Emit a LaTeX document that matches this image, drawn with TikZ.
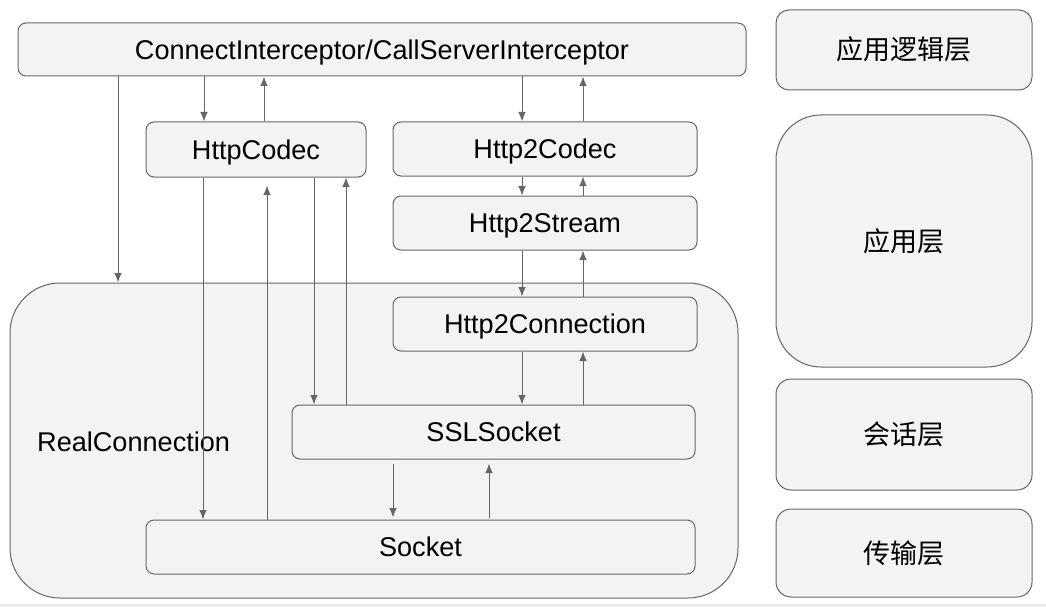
\documentclass[tikz,border=0pt]{standalone}
\usepackage{fontspec}
\setmainfont{Liberation Sans}
\newfontfamily\cjk{Noto Sans CJK SC}
\usetikzlibrary{arrows.meta}
\definecolor{boxfill}{HTML}{F3F3F3}
\definecolor{boxline}{HTML}{666666}
\definecolor{arrline}{HTML}{666666}
\tikzset{
  txt/.style={font=\fontsize{27.1}{30}\selectfont, text=black, text height=19.4pt, text depth=0pt, inner sep=0pt},
  box/.style={txt, draw=boxline, fill=boxfill, line width=1pt, rounded corners=8pt},
  layer/.style={box, font=\cjk\fontsize{27}{30}\selectfont, text height=20pt},
  arr/.style={draw=arrline, line width=1pt, -{Latex[length=9.5pt,width=7.5pt]}},
}
\begin{document}
\begin{tikzpicture}[x=1pt,y=-1pt]
\fill[white] (0,0) rectangle (1046,607);
\useasboundingbox (0,0) rectangle (1046,607);
\fill[black!7] (0,604) rectangle (1046,607);

% big container
\node[box, rounded corners=50pt, minimum width=728pt, minimum height=315pt] (rc) at (374,440.5) {};
\node[txt, anchor=west] (rclabel) at (37,442) {RealConnection};

% boxes
\node[box, minimum width=728pt, minimum height=53pt] (ci) at (382,49.5) {ConnectInterceptor/CallServerInterceptor};
\node[box, minimum width=220pt, minimum height=55pt] (hc) at (256,149.5) {HttpCodec};
\node[box, minimum width=304pt, minimum height=54pt] (h2c) at (545,149) {Http2Codec};
\node[box, minimum width=304pt, minimum height=54pt] (h2s) at (545,223) {Http2Stream};
\node[box, minimum width=304pt, minimum height=54pt] (h2conn) at (545,324) {Http2Connection};
\node[box, minimum width=403pt, minimum height=54pt] (ssl) at (493.5,432) {SSLSocket};
\node[box, minimum width=549pt, minimum height=54pt] (sock) at (420.5,547) {Socket};

% layers
\node[layer, rounded corners=13pt, minimum width=256pt, minimum height=80pt] (l1) at (904,50) {应用逻辑层};
\node[layer, rounded corners=45pt, minimum width=256pt, minimum height=252pt] (l2) at (904,241) {应用层};
\node[layer, rounded corners=15pt, minimum width=256pt, minimum height=111pt] (l3) at (904,434.5) {会话层};
\node[layer, rounded corners=15pt, minimum width=256pt, minimum height=88pt] (l4) at (904,553) {传输层};

% x positions
\coordinate (x118) at (118,0);
\coordinate (x204) at (204,0);
\coordinate (x264) at (264,0);
\coordinate (x522) at (522,0);
\coordinate (x583) at (583,0);
\coordinate (x203) at (203,0);
\coordinate (x267) at (267,0);
\coordinate (x314) at (314,0);
\coordinate (x346) at (346,0);
\coordinate (x393) at (393,0);
\coordinate (x489) at (489,0);

% arrows
\draw[arr] (ci.south -| x118) -- (rc.north -| x118);
\draw[arr] (ci.south -| x204) -- (hc.north -| x204);
\draw[arr] (hc.north -| x264) -- (ci.south -| x264);
\draw[arr] (ci.south -| x522) -- (h2c.north -| x522);
\draw[arr] (h2c.north -| x583) -- (ci.south -| x583);
\draw[arr] (h2c.south -| x522) -- (h2s.north -| x522);
\draw[arr] (h2s.north -| x583) -- (h2c.south -| x583);
\draw[arr] (h2s.south -| x522) -- (h2conn.north -| x522);
\draw[arr] (h2conn.north -| x583) -- (h2s.south -| x583);
\draw[arr] (h2conn.south -| x522) -- (ssl.north -| x522);
\draw[arr] (ssl.north -| x583) -- (h2conn.south -| x583);
\draw[arr] (hc.south -| x203) -- (sock.north -| x203);
\draw[arr, shorten >=8pt] (sock.north -| x267) -- (hc.south -| x267);
\draw[arr] (hc.south -| x314) -- (ssl.north -| x314);
\draw[arr] (ssl.north -| x346) -- (hc.south -| x346);
\draw[arr, shorten <=4pt, shorten >=2pt] (ssl.south -| x393) -- (sock.north -| x393);
\draw[arr, shorten <=2pt, shorten >=4pt] (sock.north -| x489) -- (ssl.south -| x489);
\end{tikzpicture}
\end{document}
